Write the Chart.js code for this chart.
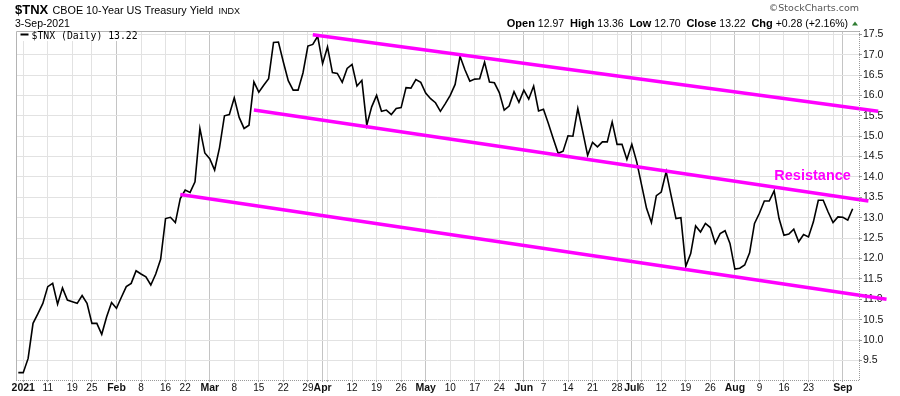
<!DOCTYPE html>
<html lang="en">
<head>
<meta charset="UTF-8">
<title>$TNX CBOE 10-Year US Treasury Yield</title>
<script src="https://cdn.jsdelivr.net/npm/chart.js@4"></script>
<style>
    html, body { margin: 0; padding: 0; background: #fff; }
    #wrap { width: 900px; height: 396px; }
</style>
</head>
<body>
<div id="wrap"><canvas id="tnxChart" width="900" height="396"></canvas></div>
<script>
// $TNX daily closes, one per trading day: index 0 = 31-Dec-2020 ... index 170 = 3-Sep-2021
const closes = [
    9.20, 9.20, 9.55, 10.41, 10.65, 10.90, 11.31, 11.39, 10.88, 11.28,
    10.98, 10.94, 10.90, 11.09, 10.90, 10.41, 10.41, 10.14, 10.57, 10.92,
    10.78, 11.05, 11.31, 11.39, 11.70, 11.62, 11.55, 11.35, 11.62, 11.98,
    12.98, 13.01, 12.88, 13.47, 13.68, 13.62, 13.88, 15.19, 14.59, 14.45,
    14.17, 14.72, 15.50, 15.53, 15.94, 15.46, 15.19, 15.27, 16.33, 16.08,
    16.25, 16.41, 17.30, 17.31, 16.82, 16.36, 16.13, 16.13, 16.55, 17.21,
    17.25, 17.45, 16.78, 17.19, 16.56, 16.54, 16.32, 16.66, 16.76, 16.23,
    16.37, 15.27, 15.72, 16.00, 15.61, 15.64, 15.53, 15.68, 15.70, 16.19,
    16.18, 16.39, 16.32, 16.06, 15.92, 15.82, 15.61, 15.80, 16.00, 16.27,
    16.96, 16.63, 16.35, 16.40, 16.41, 16.82, 16.33, 16.31, 16.07, 15.64,
    15.74, 16.09, 15.83, 16.13, 15.91, 16.23, 15.62, 15.66, 15.31, 14.94,
    14.58, 14.63, 15.01, 15.00, 15.68, 15.11, 14.53, 14.85, 14.74, 14.86,
    14.86, 15.35, 14.80, 14.80, 14.43, 14.80, 14.37, 13.80, 13.23, 12.88,
    13.54, 13.63, 14.13, 13.55, 12.98, 13.00, 11.81, 12.12, 12.80, 12.65,
    12.86, 12.76, 12.37, 12.61, 12.68, 12.37, 11.74, 11.76, 11.84, 12.14,
    12.86, 13.11, 13.41, 13.41, 13.66, 12.98, 12.57, 12.60, 12.72, 12.41,
    12.59, 12.53, 12.90, 13.43, 13.43, 13.14, 12.88, 13.02, 13.01, 12.94,
    13.22
];

// x-axis: trading-day index of each week/month gridline and its label
const tickPos  = [1, 6, 11, 15, 20, 25, 30, 34, 39, 44, 49, 54, 59, 62, 63, 68, 73, 78,
                  83, 88, 93, 98, 103, 107, 112, 117, 122, 125, 127, 131, 136, 141,
                  146, 151, 156, 161, 166, 168];
const tickText = ['2021', '11', '19', '25', 'Feb', '8', '16', '22', 'Mar', '8', '15', '22', '29', 'Apr', '', '12', '19', '26',
                  'May', '10', '17', '24', 'Jun', '7', '14', '21', '28', 'Jul', '6', '12', '19', '26',
                  'Aug', '9', '16', '23', '', 'Sep'];
const boldTicks = [1, 20, 39, 62, 83, 103, 125, 146, 168];
const monthLines = [20, 39, 62, 83, 103, 125, 146, 168];

const yTicks = [9.5, 10.0, 10.5, 11.0, 11.5, 12.0, 12.5, 13.0, 13.5, 14.0, 14.5, 15.0, 15.5, 16.0, 16.5, 17.0, 17.5];

// hand-drawn channel lines: [day index, yield] at each end
const upperLine  = [[60, 17.49], [175.2, 15.61]];
const middleLine = [[48, 15.64], [173.2, 13.41]];
const lowerLine  = [[33, 13.57], [176.9, 11.00]];

const SANS = '"Liberation Sans", Arial, sans-serif';
const MAGENTA = '#ff00ff';

const toPts = (arr) => arr.map(p => ({ x: p[0], y: p[1] }));

const headerPlugin = {
    id: 'header',
    afterDraw(chart) {
        const ctx = chart.ctx;
        const a = chart.chartArea;
        ctx.save();

        // frame: left and top edges solid, right and bottom axes dotted
        ctx.strokeStyle = '#b4b4b4';
        ctx.lineWidth = 1;
        ctx.beginPath();
        ctx.moveTo(a.left + 0.5, a.bottom);
        ctx.lineTo(a.left + 0.5, a.top + 0.5);
        ctx.lineTo(a.right, a.top + 0.5);
        ctx.stroke();
        ctx.strokeStyle = '#999';
        ctx.setLineDash([1, 1]);
        ctx.beginPath();
        ctx.moveTo(a.left, a.bottom + 0.5);
        ctx.lineTo(a.right + 0.5, a.bottom + 0.5);
        ctx.lineTo(a.right + 0.5, a.top);
        ctx.stroke();
        ctx.setLineDash([]);

        // title block
        ctx.textBaseline = 'alphabetic';
        ctx.fillStyle = '#000';
        ctx.font = 'bold 13px ' + SANS;
        ctx.fillText('$TNX', 15, 13.5);
        ctx.font = '10.8px ' + SANS;
        ctx.fillText('CBOE 10-Year US Treasury Yield', 52.5, 13.5);
        ctx.font = '9px ' + SANS;
        ctx.fillText('INDX', 218.5, 13.5);
        ctx.font = '10.5px ' + SANS;
        ctx.fillText('3-Sep-2021', 15, 26.5);

        // copyright
        ctx.font = '9.5px "DejaVu Sans", sans-serif';
        ctx.fillStyle = '#555';
        ctx.textAlign = 'right';
        ctx.fillText('\u00A9StockCharts.com', 859, 10.5);
        ctx.textAlign = 'left';

        // quote line
        const parts = [['Open', 1], [' 12.97  ', 0], ['High', 1], [' 13.36  ', 0], ['Low', 1], [' 12.70  ', 0],
                       ['Close', 1], [' 13.22  ', 0], ['Chg', 1], [' +0.28 (+2.16%) ', 0]];
        const fontFor = (b) => b ? 'bold 11px ' + SANS : '10.5px ' + SANS;
        let total = 0;
        parts.forEach(p => { ctx.font = fontFor(p[1]); total += ctx.measureText(p[0]).width; });
        let x = 851 - total;
        ctx.fillStyle = '#000';
        parts.forEach(p => {
            ctx.font = fontFor(p[1]);
            ctx.fillText(p[0], x, 26.5);
            x += ctx.measureText(p[0]).width;
        });
        ctx.fillStyle = '#2e7d32';
        ctx.beginPath();
        ctx.moveTo(852, 25.5);
        ctx.lineTo(858, 25.5);
        ctx.lineTo(855, 21.5);
        ctx.closePath();
        ctx.fill();

        // legend box in the plot corner
        ctx.fillStyle = '#fff';
        ctx.fillRect(a.left + 1, a.top + 1, 121, 9);
        ctx.fillStyle = '#000';
        ctx.fillRect(20.5, 33.5, 8, 2);
        ctx.font = '9.8px "DejaVu Sans Mono", monospace';
        ctx.fillText('$TNX (Daily) 13.22', 31.5, 38.5);

        // annotation
        ctx.fillStyle = MAGENTA;
        ctx.font = 'bold 14.5px ' + SANS;
        ctx.fillText('Resistance', 774.3, 180);

        ctx.restore();
    }
};

new Chart(document.getElementById('tnxChart').getContext('2d'), {
    type: 'line',
    data: {
        datasets: [
            { data: toPts(upperLine), borderColor: MAGENTA, borderWidth: 3.5, pointRadius: 0, clip: false, order: 0 },
            { data: toPts(middleLine), borderColor: MAGENTA, borderWidth: 3.5, pointRadius: 0, clip: false, order: 0 },
            { data: toPts(lowerLine), borderColor: MAGENTA, borderWidth: 3.5, pointRadius: 0, clip: false, order: 0 },
            {
                label: '$TNX (Daily)',
                data: closes.map((v, i) => ({ x: i, y: v })),
                borderColor: '#000',
                borderWidth: 1.6,
                pointRadius: 0,
                tension: 0,
                order: 1
            }
        ]
    },
    options: {
        responsive: false,
        animation: false,
        devicePixelRatio: 1,
        layout: { padding: { top: 31, left: 16, right: 0, bottom: 0 } },
        plugins: {
            legend: { display: false },
            tooltip: { enabled: false }
        },
        scales: {
            x: {
                type: 'linear',
                min: -0.47,
                max: 171.29,
                afterBuildTicks: (scale) => { scale.ticks = tickPos.map(v => ({ value: v })); },
                afterFit: (scale) => { scale.height = 16; },
                ticks: {
                    autoSkip: false,
                    maxRotation: 0,
                    minRotation: 0,
                    padding: 0,
                    color: '#111',
                    callback: (value) => tickText[tickPos.indexOf(value)],
                    font: (c) => boldTicks.includes(c.tick && c.tick.value)
                        ? { family: SANS, size: 10.5, weight: 'bold' }
                        : { family: SANS, size: 10 }
                },
                grid: {
                    color: (c) => monthLines.includes(c.tick && c.tick.value) ? '#c4c4c4' : '#e2e2e2',
                    tickColor: '#aaa',
                    tickLength: 2
                },
                border: { display: false }
            },
            y: {
                position: 'right',
                min: 9.02,
                max: 17.58,
                afterBuildTicks: (scale) => { scale.ticks = yTicks.map(v => ({ value: v })); },
                afterFit: (scale) => { scale.width = 41; },
                ticks: {
                    padding: 1,
                    color: '#111',
                    font: { family: SANS, size: 10.5 },
                    callback: (v) => v.toFixed(1)
                },
                grid: { color: '#e2e2e2', tickColor: '#999', tickLength: 3 },
                border: { display: false }
            }
        }
    },
    plugins: [headerPlugin]
});
</script>
</body>
</html>
